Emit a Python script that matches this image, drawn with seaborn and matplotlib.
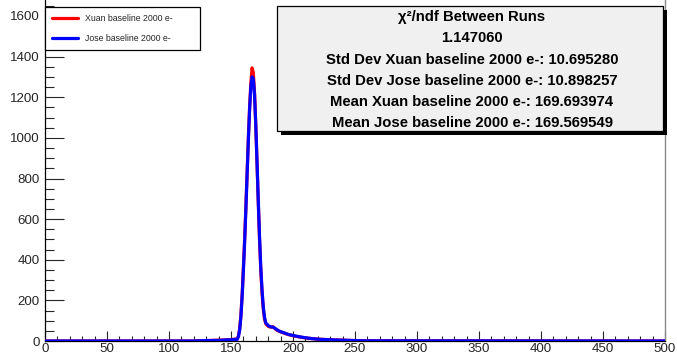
import numpy as np
import pandas as pd
import matplotlib
matplotlib.use("Agg")
import matplotlib.pyplot as plt
from matplotlib.patches import Rectangle
from matplotlib.ticker import MultipleLocator
from matplotlib.lines import Line2D
import seaborn as sns

# ---- data ----
x_bins = [0, 120, 130, 140, 145, 150, 153, 155, 156, 157, 158, 159, 160, 161, 162,
          163, 164, 165, 166, 167, 168, 169, 170, 171, 172, 173, 174, 175, 176, 177,
          178, 180, 182, 184, 186, 188, 190, 193, 196, 200, 205, 210, 215, 220, 230,
          240, 250, 260, 500]
xuan_counts = [0, 0, 2, 4, 5, 7, 9, 10, 25, 60, 130, 230, 360, 500, 660,
               830, 1000, 1150, 1270, 1345, 1320, 1220, 1060, 870, 680, 500, 350, 240, 160, 110,
               85, 72, 68, 70, 58, 50, 45, 38, 32, 26, 20, 15, 12, 9, 6,
               4, 2, 1, 0]
jose_counts = [0, 0, 2, 3, 5, 6, 8, 8, 22, 55, 120, 220, 350, 490, 650,
               820, 990, 1140, 1250, 1300, 1290, 1210, 1060, 880, 690, 515, 365, 255, 170, 118,
               90, 76, 70, 68, 60, 52, 46, 40, 33, 27, 21, 16, 12, 9, 6,
               4, 2, 1, 0]
series_names = ["Xuan baseline 2000 e-", "Jose baseline 2000 e-"]
series_colors = ["#ff0000", "#0000ff"]
stats_lines = [
    "χ²/ndf Between Runs",
    "1.147060",
    "Std Dev Xuan baseline 2000 e-: 10.695280",
    "Std Dev Jose baseline 2000 e-: 10.898257",
    "Mean Xuan baseline 2000 e-: 169.693974",
    "Mean Jose baseline 2000 e-: 169.569549",
]

df = pd.concat([
    pd.DataFrame({"x": x_bins, "count": xuan_counts, "run": series_names[0]}),
    pd.DataFrame({"x": x_bins, "count": jose_counts, "run": series_names[1]}),
])

sns.set_style("white")
plt.rcParams["font.family"] = ["Liberation Sans", "DejaVu Sans"]

W, H = 677, 356
fig = plt.figure(figsize=(W / 100, H / 100), dpi=100)
ax = fig.add_axes([45 / W, 15 / H, 620 / W, 341 / H])

sns.lineplot(data=df, x="x", y="count", hue="run", hue_order=series_names,
             palette=series_colors, linewidth=2.3, ax=ax, legend=False,
             estimator=None, sort=False, zorder=3)

ax.set_xlim(0, 500)
ax.set_ylim(0, 1600 * 341 / 325)
ax.set_xlabel("")
ax.set_ylabel("")

ax.xaxis.set_major_locator(MultipleLocator(50))
ax.xaxis.set_minor_locator(MultipleLocator(10))
ax.yaxis.set_major_locator(MultipleLocator(200))
ax.yaxis.set_minor_locator(MultipleLocator(50))
ax.tick_params(axis="x", which="major", direction="in", length=7.2, width=0.8,
               labelsize=9.6, pad=1.5, bottom=True, top=False)
ax.tick_params(axis="x", which="minor", direction="in", length=3.6, width=0.8,
               bottom=True, top=False)
ax.tick_params(axis="y", which="major", direction="in", length=13.4, width=0.8,
               labelsize=9.6, pad=4, left=True, right=False)
ax.tick_params(axis="y", which="minor", direction="in", length=6.7, width=0.8,
               left=True, right=False)

for s in ["left", "bottom"]:
    ax.spines[s].set_color("black")
    ax.spines[s].set_linewidth(0.9)
ax.spines["right"].set_color("#888888")
ax.spines["right"].set_linewidth(1.0)
ax.spines["top"].set_visible(False)

# legend
handles = [Line2D([], [], color=c, lw=2.3) for c in series_colors]
leg = fig.legend(handles, series_names, loc="upper left", mode="expand",
                 bbox_to_anchor=(45 / W, 1 - 49 / H, 155 / W, 42 / H), fontsize=6.3,
                 frameon=True, fancybox=False, edgecolor="black",
                 framealpha=1, handlelength=3.0, handletextpad=0.8,
                 labelspacing=1.33, borderpad=0.75, borderaxespad=0)
leg.get_frame().set_linewidth(0.9)

# stats box with shadow
bx0, bx1, by0, by1 = 277, 663, 6, 131
shadow = Rectangle(((bx0 + 4) / W, 1 - (by1 + 4) / H), (bx1 - bx0) / W, (by1 - by0) / H,
                   transform=fig.transFigure, facecolor="black", edgecolor="none", zorder=5)
box = Rectangle((bx0 / W, 1 - by1 / H), (bx1 - bx0) / W, (by1 - by0) / H,
                transform=fig.transFigure, facecolor="#f0f0f0", edgecolor="black",
                linewidth=0.9, zorder=6)
fig.patches.extend([shadow, box])
line_y = [17, 38, 60, 81, 102, 123]
for txt, yy in zip(stats_lines, line_y):
    fig.text(472 / W, 1 - yy / H, txt, ha="center", va="center",
             fontsize=10.7, fontweight="bold", color="black", zorder=7)

fig.savefig("out.png", dpi=100)
